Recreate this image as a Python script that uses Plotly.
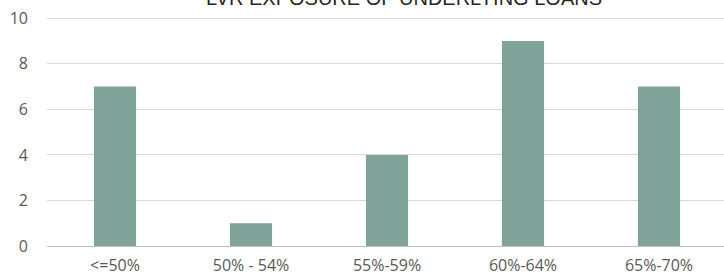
import plotly.graph_objects as go

categories = ["<=50%", "50% - 54%", "55%-59%", "60%-64%", "65%-70%"]
values = [7, 1, 4, 9, 7]
y_ticks = [0, 2, 4, 6, 8, 10]
title_text = "LVR EXPOSURE OF UNDERLYING LOANS"

fig = go.Figure(go.Bar(x=categories, y=values, marker=dict(color="#7FA398", line=dict(width=0))))

fig.update_layout(
    width=724, height=275,
    margin=dict(l=47, r=0, t=16, b=29),
    paper_bgcolor="white", plot_bgcolor="white",
    bargap=0.69,
    showlegend=False,
    font=dict(family="Open Sans", size=16, color="#595959"),
    annotations=[dict(text=title_text, xref="paper", yref="paper", x=0.527, y=1.0235,
                      xanchor="center", yanchor="bottom", showarrow=False,
                      font=dict(family="Liberation Sans", size=20, color="#262626"))],
)
fig.update_xaxes(type="category", range=[-0.5, 4.478], showgrid=False, ticks="",
                 showline=False, automargin=False, ticklabelstandoff=8,
                 tickfont=dict(size=16, color="#595959"))
fig.update_yaxes(range=[0, 10.1], tickvals=y_ticks, showgrid=True, gridcolor="#D9D9D9",
                 gridwidth=1, zeroline=True, zerolinecolor="#BFBFBF", zerolinewidth=1,
                 ticks="", automargin=False, ticklabelstandoff=18, ticklabeloverflow="allow",
                 tickfont=dict(size=16, color="#595959"))
fig.write_html("out.html", config={"displayModeBar": False},
               post_script="document.body.style.margin='0';")
